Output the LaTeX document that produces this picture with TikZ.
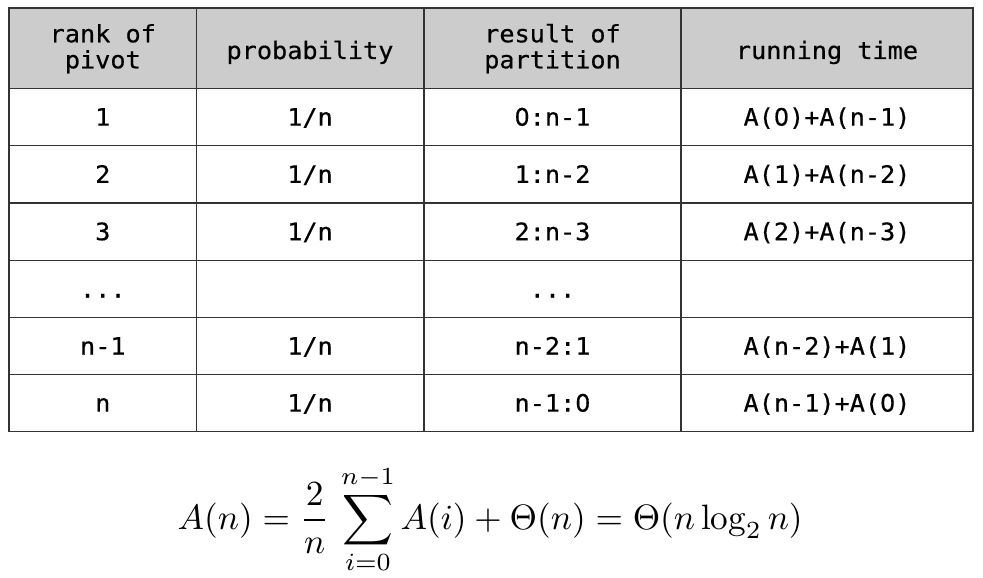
\documentclass[tikz,border=0pt]{standalone}
\usepackage{fontspec}
\usepackage{amsmath}
\newfontfamily\tabfont[FakeStretch=1.05,FakeBold=0.5]{DejaVu Sans Mono}
\newfontfamily\zerofont[FakeStretch=0.995,FakeBold=0.5]{DejaVu Sans}
\newcommand\zr{{\zerofont 0}}
\definecolor{hdrfill}{HTML}{CCCCCC}
\definecolor{rulecol}{HTML}{333333}
\begin{document}
\begin{tikzpicture}[x=1pt,y=-1pt,
  cell/.style={inner sep=0pt, anchor=base, font=\tabfont\fontsize{24}{28}\selectfont},
  gridline/.style={draw=rulecol, line width=1.2pt}]
\useasboundingbox (0,0) rectangle (983,578);
% header background
\fill[hdrfill] (9,8) rectangle (973,88.5);
% grid
\foreach \y in {88.5,145.7,203,260.4,317.7,374.8}
  \draw[gridline] (9,\y) -- (973,\y);
\foreach \x in {196.5,424,681}
  \draw[gridline] (\x,8) -- (\x,431.5);
\draw[gridline] (9,8) rectangle (973,431.5);
% header
\node[cell] (h1a) at (102.8,42.3) {rank of};
\node[cell] (h1b) at (102.8,68.3) {pivot};
\node[cell] (h2)  at (310,59) {probability};
\node[cell] (h3a) at (552.5,42.3) {result of};
\node[cell] (h3b) at (552.5,68.3) {partition};
\node[cell] (h4)  at (827,59) {running time};
% row 1
\node[cell] (r1a) at (102.8,125.6) {1};
\node[cell] (r1b) at (310,125.6) {1/n};
\node[cell] (r1c) at (552.5,125.6) {\zr:n-1};
\node[cell] (r1d) at (827,125.6) {A(\zr)+A(n-1)};
% row 2
\node[cell] (r2a) at (102.8,182.9) {2};
\node[cell] (r2b) at (310,182.9) {1/n};
\node[cell] (r2c) at (552.5,182.9) {1:n-2};
\node[cell] (r2d) at (827,182.9) {A(1)+A(n-2)};
% row 3
\node[cell] (r3a) at (102.8,240.2) {3};
\node[cell] (r3b) at (310,240.2) {1/n};
\node[cell] (r3c) at (552.5,240.2) {2:n-3};
\node[cell] (r3d) at (827,240.2) {A(2)+A(n-3)};
% row 4
\node[cell] (r4a) at (102.8,297.5) {...};
\node[cell] (r4c) at (552.5,297.5) {...};
% row 5
\node[cell] (r5a) at (102.8,354.7) {n-1};
\node[cell] (r5b) at (310,354.7) {1/n};
\node[cell] (r5c) at (552.5,354.7) {n-2:1};
\node[cell] (r5d) at (827,354.7) {A(n-2)+A(1)};
% row 6
\node[cell] (r6a) at (102.8,411.6) {n};
\node[cell] (r6b) at (310,411.6) {1/n};
\node[cell] (r6c) at (552.5,411.6) {n-1:\zr};
\node[cell] (r6d) at (827,411.6) {A(n-1)+A(\zr)};
% formula
\node[inner sep=0pt, anchor=base west] (eq) at (177.5,529)
  {\resizebox{625pt}{!}{$\displaystyle A(n)=\frac{2}{n}\,\sum_{i=0}^{n-1}A(i)+\Theta(n)=\Theta(n\log_2 n)$}};
\end{tikzpicture}
\end{document}
